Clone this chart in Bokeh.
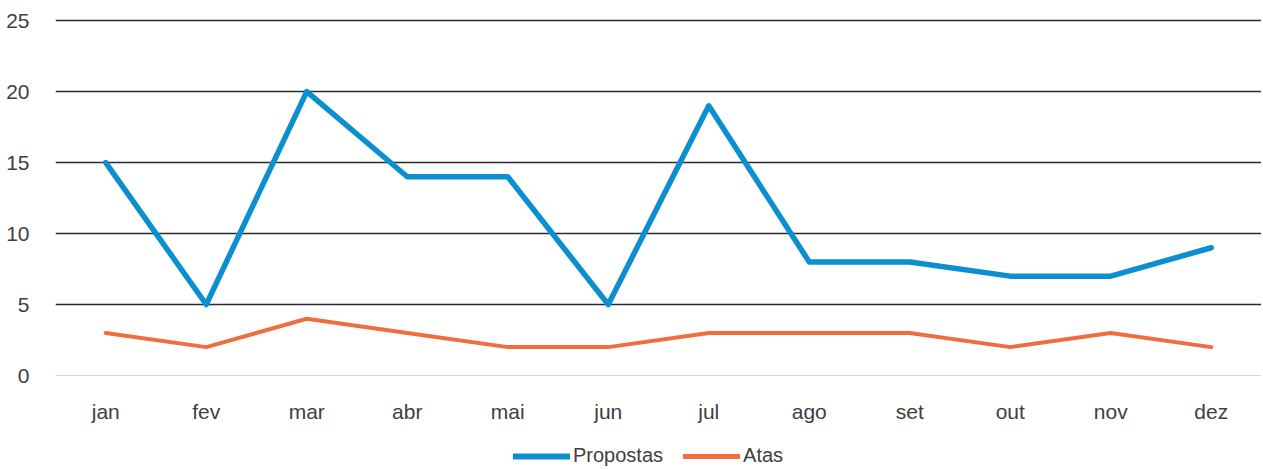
from bokeh.plotting import figure
from bokeh.layouts import column
from bokeh.models import Legend, LegendItem, FixedTicker, Range1d
from bokeh.embed import file_html
from bokeh.resources import INLINE

months = ["jan", "fev", "mar", "abr", "mai", "jun", "jul", "ago", "set", "out", "nov", "dez"]
propostas = [15, 5, 20, 14, 14, 5, 19, 8, 8, 7, 7, 9]
atas = [3, 2, 4, 3, 2, 2, 3, 3, 3, 2, 3, 2]
y_ticks = [0, 5, 10, 15, 20, 25]
series_names = ["Propostas", "Atas"]

FONT = "Liberation Sans"
TXT = "#404040"
BLUE = "#0b8fd0"
ORANGE = "#ef6d3e"

p = figure(x_range=months, y_range=Range1d(0, 25.15), frame_width=1206, frame_height=357,
           output_backend="svg", toolbar_location=None,
           min_border_left=55, min_border_right=0, min_border_top=18, min_border_bottom=58)
p.outline_line_color = None

p.line(months, propostas, line_color=BLUE, line_width=5.5, line_join="round", line_cap="round")
p.line(months, atas, line_color=ORANGE, line_width=4, line_join="round", line_cap="round")

p.xgrid.grid_line_color = None
p.ygrid.ticker = FixedTicker(ticks=y_ticks[1:])
p.ygrid.grid_line_color = "#2b2b2b"
p.ygrid.grid_line_width = 1.3

p.yaxis.ticker = FixedTicker(ticks=y_ticks)
p.yaxis.axis_line_color = None
p.yaxis.major_tick_line_color = None
p.yaxis.minor_tick_line_color = None
p.yaxis.major_label_text_font = FONT
p.yaxis.major_label_text_font_size = "21px"
p.yaxis.major_label_text_color = TXT
p.yaxis.major_label_standoff = 20

p.xaxis.axis_line_color = "#d6d6d6"
p.xaxis.axis_line_width = 1
p.xaxis.major_tick_line_color = None
p.xaxis.minor_tick_line_color = None
p.xaxis.major_label_text_font = FONT
p.xaxis.major_label_text_font_size = "21px"
p.xaxis.major_label_text_color = TXT
p.xaxis.major_label_standoff = 18

# Legend strip below the chart (series drawn out of view so only the legend shows)
lg = figure(width=1261, height=36, output_backend="svg", toolbar_location=None,
            x_axis_type=None, y_axis_type=None, min_border=0,
            x_range=months, y_range=Range1d(100, 101))
lg.outline_line_color = None
lg.xgrid.grid_line_color = None
lg.ygrid.grid_line_color = None
l1 = lg.line(months, propostas, line_color=BLUE, line_width=6, line_cap="round")
l2 = lg.line(months, atas, line_color=ORANGE, line_width=5, line_cap="round")

legend = Legend(items=[LegendItem(label=series_names[0], renderers=[l1]),
                       LegendItem(label=series_names[1], renderers=[l2])],
                orientation="horizontal", location=(458, 2),
                label_text_font=FONT, label_text_font_size="20px", label_text_color=TXT,
                glyph_width=57, glyph_height=20, label_standoff=3, spacing=20,
                border_line_color=None, background_fill_alpha=0, margin=0, padding=0)
lg.add_layout(legend, "center")

layout = column(p, lg, spacing=0)
open("out.html", "w").write(file_html(layout, INLINE))
